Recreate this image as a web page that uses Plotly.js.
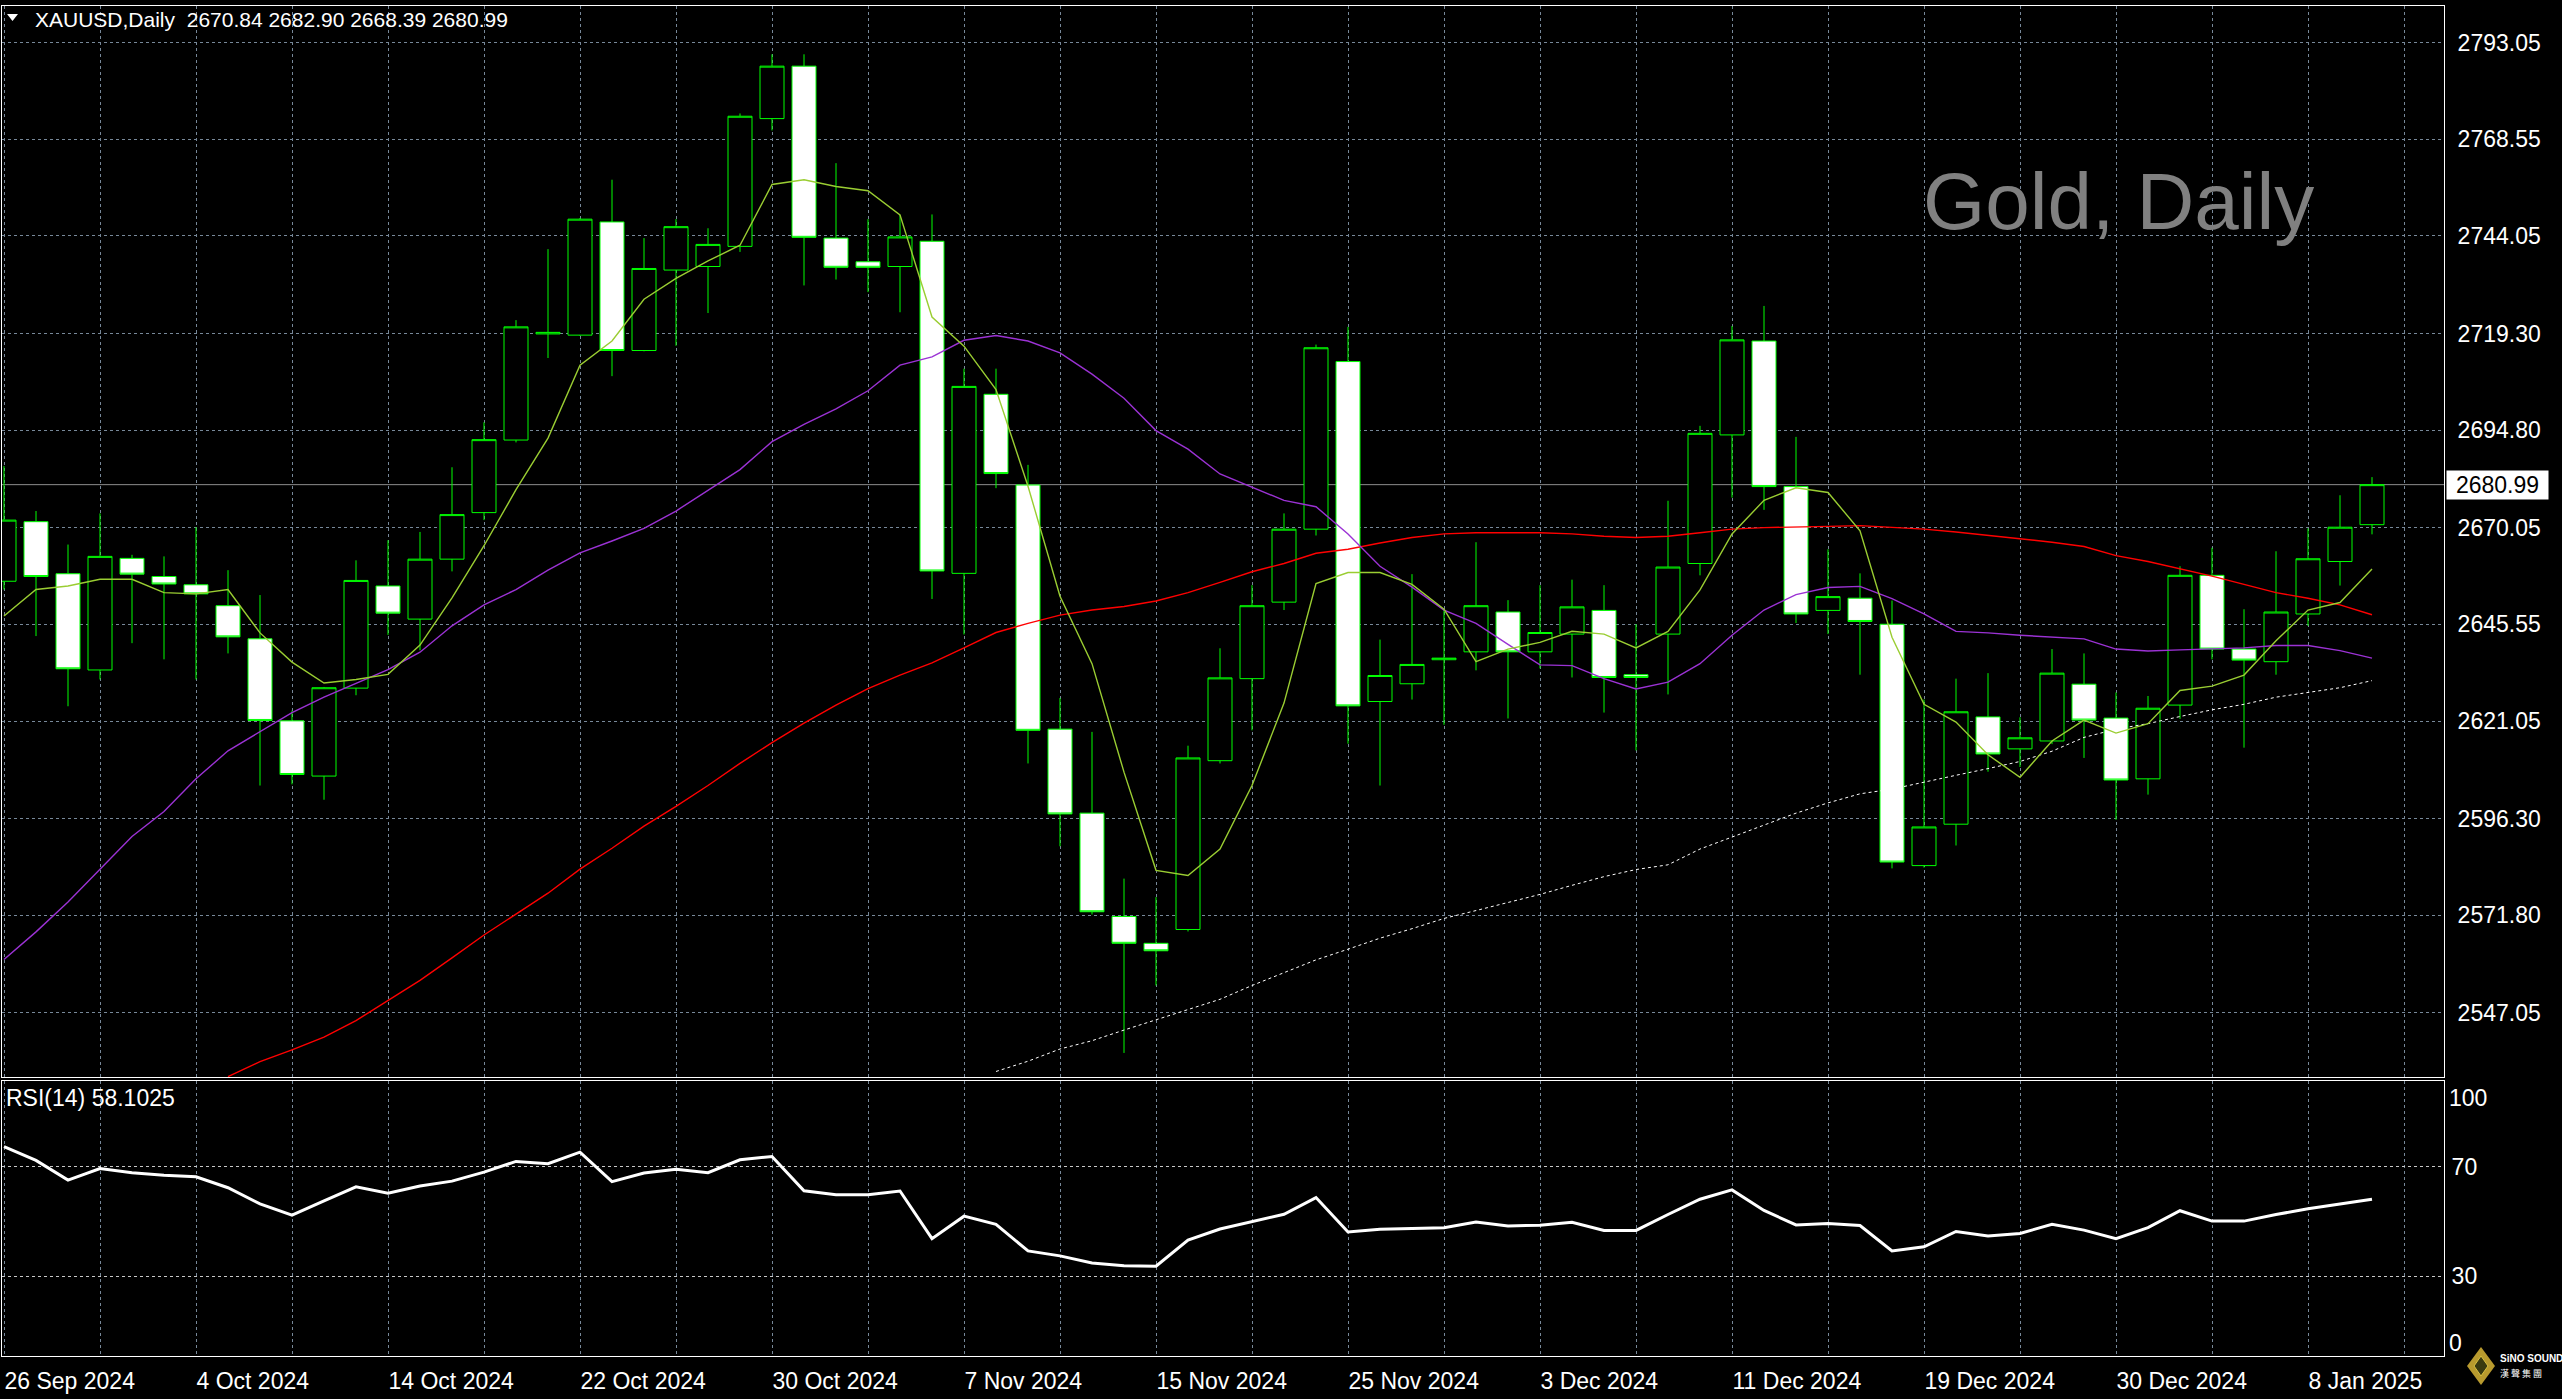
<!DOCTYPE html>
<html>
<head>
<meta charset="utf-8">
<script src="https://cdn.plot.ly/plotly-3.0.1.min.js"></script>
<style>
html,body{margin:0;padding:0;background:#000;overflow:hidden;}
#chart{width:2562px;height:1399px;}
</style>
</head>
<body>
<div id="chart"></div>
<script>
// ---------- DATA ----------
const dates = [
 '2024-09-26','2024-09-27','2024-09-30','2024-10-01','2024-10-02','2024-10-03','2024-10-04','2024-10-07','2024-10-08','2024-10-09',
 '2024-10-10','2024-10-11','2024-10-14','2024-10-15','2024-10-16','2024-10-17','2024-10-18','2024-10-21','2024-10-22','2024-10-23',
 '2024-10-24','2024-10-25','2024-10-28','2024-10-29','2024-10-30','2024-10-31','2024-11-01','2024-11-04','2024-11-05','2024-11-06',
 '2024-11-07','2024-11-08','2024-11-11','2024-11-12','2024-11-13','2024-11-14','2024-11-15','2024-11-18','2024-11-19','2024-11-20',
 '2024-11-21','2024-11-22','2024-11-25','2024-11-26','2024-11-27','2024-11-28','2024-11-29','2024-12-02','2024-12-03','2024-12-04',
 '2024-12-05','2024-12-06','2024-12-09','2024-12-10','2024-12-11','2024-12-12','2024-12-13','2024-12-16','2024-12-17','2024-12-18',
 '2024-12-19','2024-12-20','2024-12-23','2024-12-24','2024-12-26','2024-12-27','2024-12-30','2024-12-31','2025-01-02','2025-01-03',
 '2025-01-06','2025-01-07','2025-01-08','2025-01-09','2025-01-10'
];
const open = [
 2656.5,2671.6,2658.4,2634.0,2662.3,2657.7,2655.6,2650.3,2641.9,2621.1,
 2607.1,2629.4,2655.3,2646.9,2662.1,2673.9,2692.3,2719.2,2718.9,2747.6,
 2715.0,2735.4,2736.3,2741.4,2773.8,2787.1,2743.5,2737.5,2736.3,2742.7,
 2658.5,2703.9,2680.9,2619.0,2597.7,2571.5,2564.7,2568.2,2611.0,2631.8,
 2651.2,2669.7,2712.2,2626.0,2630.5,2636.6,2638.6,2648.7,2638.6,2643.1,
 2649.1,2632.8,2643.1,2661.0,2693.6,2717.4,2680.5,2649.1,2652.2,2645.6,
 2584.4,2594.9,2622.1,2614.0,2616.0,2630.4,2621.8,2606.4,2625.1,2658.0,
 2639.3,2636.1,2648.2,2661.5,2670.84
];
const high = [
 2685.7,2674.3,2665.8,2673.7,2663.2,2662.8,2670.2,2659.3,2653.0,2623.7,
 2629.7,2661.8,2666.9,2669.0,2685.4,2696.8,2722.7,2740.7,2748.6,2758.3,
 2743.5,2748.3,2746.0,2775.1,2790.1,2790.1,2762.5,2748.3,2749.4,2749.5,
 2710.4,2710.4,2686.0,2626.9,2618.3,2581.1,2576.4,2614.8,2639.5,2655.5,
 2673.7,2716.5,2721.0,2641.7,2658.3,2649.2,2666.4,2651.7,2655.5,2656.9,
 2655.5,2645.6,2676.9,2695.9,2721.2,2726.3,2693.1,2664.6,2658.5,2651.6,
 2626.5,2631.8,2633.2,2622.0,2639.3,2638.2,2628.3,2627.4,2660.3,2665.0,
 2649.4,2664.1,2669.9,2678.3,2682.90
];
const low = [
 2654.4,2642.6,2624.8,2631.6,2640.8,2636.7,2631.6,2638.2,2604.7,2605.0,
 2601.1,2627.6,2642.9,2639.0,2659.0,2672.0,2691.7,2713.1,2718.7,2708.5,
 2714.8,2716.2,2724.5,2740.0,2770.8,2731.5,2733.0,2729.8,2724.7,2652.0,
 2643.0,2680.1,2610.3,2589.3,2572.0,2536.9,2554.0,2567.7,2610.3,2618.7,
 2649.2,2668.1,2615.3,2604.7,2626.5,2620.1,2633.9,2621.7,2634.4,2632.1,
 2623.2,2613.6,2627.8,2658.0,2677.7,2674.6,2645.9,2643.1,2632.8,2583.7,
 2583.9,2589.5,2608.2,2609.4,2615.2,2611.7,2596.0,2602.4,2621.6,2636.7,
 2614.3,2632.8,2645.2,2655.4,2668.39
];
const close = [
 2672.0,2657.7,2634.3,2662.8,2658.3,2655.8,2653.3,2642.4,2621.2,2607.5,
 2629.5,2656.7,2648.4,2662.1,2673.4,2692.4,2721.0,2719.6,2748.3,2715.0,
 2735.8,2746.4,2741.9,2774.4,2787.1,2743.7,2736.1,2736.1,2743.8,2659.1,
 2705.9,2683.8,2618.7,2597.5,2572.7,2564.7,2562.8,2611.7,2632.0,2650.3,
 2669.7,2715.7,2624.9,2632.6,2635.4,2637.0,2650.3,2638.6,2643.5,2650.0,
 2632.1,2632.1,2660.1,2694.0,2717.7,2680.5,2648.2,2652.6,2646.3,2585.3,
 2594.2,2623.4,2612.7,2616.8,2633.2,2621.3,2606.1,2624.3,2658.0,2639.3,
 2636.5,2648.7,2662.2,2670.2,2680.99
];
// yellow-green fast moving average
const maFast = [
 2647.7,2654.4,2655.3,2657.0,2657.0,2653.6,2653.3,2654.4,2643.4,2636.0,
 2630.7,2631.6,2632.9,2640.3,2652.3,2665.5,2679.7,2692.8,2711.3,2717.4,
 2728.0,2733.3,2737.7,2741.7,2757.1,2758.3,2756.6,2755.5,2749.4,2723.5,
 2716.1,2705.1,2680.6,2652.7,2635.6,2608.1,2583.2,2581.9,2588.6,2604.7,
 2625.6,2655.9,2658.7,2658.7,2655.7,2649.4,2636.1,2639.3,2641.0,2643.8,
 2643.1,2639.6,2643.8,2654.3,2668.5,2677.0,2680.2,2679.0,2669.3,2642.3,
 2625.3,2620.8,2612.5,2606.8,2616.0,2621.3,2618.0,2620.4,2628.8,2629.9,
 2632.7,2641.4,2649.2,2651.1,2659.6
];
// purple moving average
const maMid = [
 2560.6,2567.6,2575.2,2583.5,2591.8,2598.1,2606.4,2613.5,2618.4,2623.2,
 2627.1,2630.6,2634.1,2638.5,2645.2,2650.5,2654.4,2659.3,2663.7,2666.7,
 2669.9,2674.3,2679.6,2684.8,2691.9,2696.3,2700.2,2704.8,2711.3,2713.4,
 2717.6,2718.8,2717.4,2714.4,2709.0,2702.9,2694.7,2690.0,2683.7,2680.4,
 2677.0,2675.4,2668.5,2660.3,2655.0,2649.2,2645.8,2640.5,2635.3,2635.1,
 2631.8,2629.2,2630.9,2635.6,2642.8,2649.2,2653.1,2654.9,2655.2,2652.1,
 2648.2,2643.8,2643.4,2642.8,2642.4,2641.9,2639.3,2638.8,2639.1,2639.3,
 2639.6,2640.2,2640.2,2638.9,2637.0
];
// red moving average
const maSlow = [
 null,null,null,null,null,null,null,2530.9,2534.7,2537.7,
 2540.9,2545.1,2550.1,2555.3,2561.0,2566.8,2572.1,2577.4,2583.5,2588.8,
 2594.4,2599.4,2604.7,2610.3,2615.6,2620.5,2625.1,2629.3,2632.7,2635.8,
 2639.6,2643.5,2645.8,2647.9,2649.2,2650.1,2651.5,2653.6,2656.2,2658.9,
 2661.0,2663.6,2664.6,2666.2,2667.6,2668.5,2668.8,2668.8,2668.8,2668.5,
 2667.9,2667.6,2667.9,2668.8,2669.7,2670.1,2670.2,2670.4,2670.6,2670.2,
 2669.7,2669.0,2668.1,2667.2,2666.4,2665.3,2663.0,2661.5,2659.6,2657.8,
 2655.7,2653.6,2652.2,2650.5,2648.0
];
// white dotted long moving average
const maLong = [
 null,null,null,null,null,null,null,null,null,null,
 null,null,null,null,null,null,null,null,null,null,
 null,null,null,null,null,null,null,null,null,null,
 null,2532.2,2534.8,2537.9,2540.0,2542.7,2545.3,2547.9,2550.5,2554.0,
 2557.2,2560.5,2563.2,2566.0,2568.4,2571.0,2573.0,2575.0,2577.1,2579.4,
 2581.6,2583.4,2584.6,2588.6,2591.6,2594.6,2597.7,2600.3,2602.6,2603.8,
 2605.6,2607.3,2609.0,2610.8,2613.4,2616.9,2619.0,2620.4,2622.2,2623.9,
 2625.3,2627.1,2628.3,2629.5,2631.3
];
const rsi = [
 77.3,72.3,65.1,69.3,67.8,66.9,66.3,62.3,56.4,52.3,
 57.5,62.6,60.3,62.9,64.7,68.0,71.9,71.1,75.3,64.5,
 67.7,69.0,67.8,72.5,73.7,61.2,59.7,59.7,61.1,43.7,
 51.9,48.9,39.2,37.4,34.8,33.8,33.6,43.2,47.2,49.9,
 52.6,58.7,46.1,47.1,47.5,47.7,49.8,48.3,48.6,49.7,
 46.7,46.7,52.5,58.1,61.5,54.0,48.7,49.2,48.5,39.2,
 40.7,46.3,44.7,45.6,48.9,46.8,43.7,47.7,53.9,50.1,
 50.1,52.5,54.6,56.4,58.1
];
const rsiLabel = 'RSI(14) 58.1025';
const priceTicks = [2547.05,2571.80,2596.30,2621.05,2645.55,2670.05,2694.80,2719.30,2744.05,2768.55,2793.05];
const rsiTicks = [30,70];
const labelDates = ['2024-09-26','2024-10-04','2024-10-14','2024-10-22','2024-10-30','2024-11-07','2024-11-15','2024-11-25','2024-12-03','2024-12-11','2024-12-19','2024-12-30','2025-01-08'];
const labelTexts = ['26 Sep 2024','4 Oct 2024','14 Oct 2024','22 Oct 2024','30 Oct 2024','7 Nov 2024','15 Nov 2024','25 Nov 2024','3 Dec 2024','11 Dec 2024','19 Dec 2024','30 Dec 2024','8 Jan 2025'];
const symbol = 'XAUUSD,Daily';
const watermark = 'Gold, Daily';

// ---------- BUILD ----------
const W = 2562, H = 1399;
const FONT = 'Liberation Sans, Arial, sans-serif';
const GRID = '#778899';
const xIdx = dates.map((d, i) => i);
const last = dates.length - 1;
const labelPos = labelDates.map(d => dates.indexOf(d));
const gridVals = [];
for (let v = 0; v <= last + 2; v += 3) gridVals.push(v);
const gridText = gridVals.map(v => { const k = labelPos.indexOf(v); return k >= 0 ? labelTexts[k] : ''; });

const px = x => x / W;
const py = y => 1 - y / H;
const xDom = [px(2), px(2444)];
const xRange = [-0.0625, 76.25];

const traces = [
  {
    type: 'candlestick', x: xIdx, open: open, high: high, low: low, close: close,
    xaxis: 'x', yaxis: 'y', whiskerwidth: 0, hoverinfo: 'skip',
    increasing: { line: { color: '#00FF00', width: 1 }, fillcolor: '#000000' },
    decreasing: { line: { color: '#00FF00', width: 1 }, fillcolor: '#FFFFFF' }
  },
  { type: 'scatter', mode: 'lines', x: xIdx, y: maLong, xaxis: 'x', yaxis: 'y', line: { color: '#FFFFFF', width: 1, dash: 'dot' }, hoverinfo: 'skip' },
  { type: 'scatter', mode: 'lines', x: xIdx, y: maSlow, xaxis: 'x', yaxis: 'y', line: { color: '#FF0000', width: 1.4 }, hoverinfo: 'skip' },
  { type: 'scatter', mode: 'lines', x: xIdx, y: maMid, xaxis: 'x', yaxis: 'y', line: { color: '#9B32D4', width: 1.4 }, hoverinfo: 'skip' },
  { type: 'scatter', mode: 'lines', x: xIdx, y: maFast, xaxis: 'x', yaxis: 'y', line: { color: '#9ACD32', width: 1.4 }, hoverinfo: 'skip' },
  { type: 'scatter', mode: 'lines', x: xIdx, y: rsi, xaxis: 'x2', yaxis: 'y2', line: { color: '#FFFFFF', width: 3 }, hoverinfo: 'skip' }
];

const fmt = v => v.toFixed(2);
const header = symbol + '\u00a0\u00a0' + [open[last], high[last], low[last], close[last]].map(fmt).join(' ');

const layout = {
  width: W, height: H,
  margin: { l: 0, r: 0, t: 0, b: 0 },
  paper_bgcolor: '#000000', plot_bgcolor: '#000000',
  showlegend: false, hovermode: false, dragmode: false,
  boxgap: 0.25, boxgroupgap: 0,
  font: { family: FONT, color: '#FFFFFF', size: 23 },
  xaxis: {
    domain: xDom, range: xRange, anchor: 'y', tickvals: gridVals, showticklabels: false, ticks: '',
    showgrid: true, gridcolor: GRID, griddash: 'dot', gridwidth: 1, zeroline: false,
    showline: true, mirror: true, linecolor: '#FFFFFF', linewidth: 1,
    rangeslider: { visible: false }, fixedrange: true
  },
  yaxis: {
    domain: [py(1077), py(6)], range: [2530.8, 2802.35], anchor: 'x', side: 'right',
    tickvals: priceTicks, ticktext: priceTicks.map(fmt), ticks: '', ticklabelstandoff: 8,
    tickfont: { family: FONT, size: 23, color: '#FFFFFF' },
    showgrid: true, gridcolor: GRID, griddash: 'dot', gridwidth: 1, zeroline: false,
    showline: true, mirror: true, linecolor: '#FFFFFF', linewidth: 1, fixedrange: true
  },
  xaxis2: {
    domain: xDom, range: xRange, anchor: 'y2', tickvals: gridVals, ticktext: gridText,
    ticklabelposition: 'outside right', ticks: '', ticklabelstandoff: 4,
    tickfont: { family: FONT, size: 23, color: '#FFFFFF' },
    showgrid: true, gridcolor: GRID, griddash: 'dot', gridwidth: 1, zeroline: false,
    showline: true, mirror: true, linecolor: '#FFFFFF', linewidth: 1, fixedrange: true
  },
  yaxis2: {
    domain: [py(1356), py(1081)], range: [0.8, 101.3], anchor: 'x2', side: 'right',
    tickvals: rsiTicks, ticktext: rsiTicks.map(String), ticks: '', ticklabelstandoff: 2,
    tickfont: { family: FONT, size: 23, color: '#FFFFFF' },
    showgrid: true, gridcolor: '#C8C8C8', griddash: 'dot', gridwidth: 1, zeroline: false,
    showline: true, mirror: true, linecolor: '#FFFFFF', linewidth: 1, fixedrange: true
  },
  shapes: [
    { type: 'line', xref: 'paper', yref: 'y', x0: xDom[0], x1: xDom[1], y0: close[last], y1: close[last], line: { color: '#8C8C8C', width: 1 }, layer: 'below' },
    { type: 'path', xref: 'paper', yref: 'paper', path: `M ${px(7)},${py(14)} L ${px(18)},${py(14)} L ${px(12.5)},${py(21)} Z`, fillcolor: '#FFFFFF', line: { width: 0 } },
    { type: 'path', xref: 'paper', yref: 'paper', path: `M ${px(2481)},${py(1347)} L ${px(2495)},${py(1366)} L ${px(2481)},${py(1385)} L ${px(2467)},${py(1366)} Z`, fillcolor: '#B89A2E', line: { width: 0 } },
    { type: 'path', xref: 'paper', yref: 'paper', path: `M ${px(2481)},${py(1356)} L ${px(2488)},${py(1366)} L ${px(2481)},${py(1376)} L ${px(2474)},${py(1366)} Z`, fillcolor: '#3A3A10', line: { color: '#D8C040', width: 1 } }
  ],
  annotations: [
    { xref: 'paper', yref: 'paper', x: px(33), y: py(20), xanchor: 'left', yanchor: 'middle', showarrow: false, text: header, font: { family: FONT, size: 21, color: '#FFFFFF' } },
    { xref: 'paper', yref: 'paper', x: px(1921), y: py(201), xanchor: 'left', yanchor: 'middle', showarrow: false, text: watermark, font: { family: FONT, size: 80, color: '#808080' } },
    { xref: 'paper', yref: 'paper', x: px(4), y: py(1098), xanchor: 'left', yanchor: 'middle', showarrow: false, text: rsiLabel, font: { family: FONT, size: 23, color: '#FFFFFF' } },
    { xref: 'paper', yref: 'y', x: px(2446), y: close[last], xanchor: 'left', yanchor: 'middle', showarrow: false, text: fmt(close[last]), width: 99, height: 26, borderpad: 1, bgcolor: '#FFFFFF', font: { family: FONT, size: 23, color: '#000000' } },
    { xref: 'paper', yref: 'paper', x: px(2447), y: py(1098), xanchor: 'left', yanchor: 'middle', showarrow: false, text: '100', font: { family: FONT, size: 23, color: '#FFFFFF' } },
    { xref: 'paper', yref: 'paper', x: px(2447), y: py(1343), xanchor: 'left', yanchor: 'middle', showarrow: false, text: '0', font: { family: FONT, size: 23, color: '#FFFFFF' } },
    { xref: 'paper', yref: 'paper', x: px(2498), y: py(1358), xanchor: 'left', yanchor: 'middle', showarrow: false, text: '<b>SiNO SOUND</b>', font: { family: FONT, size: 10, color: '#FFFFFF' } },
    { xref: 'paper', yref: 'paper', x: px(2498), y: py(1373), xanchor: 'left', yanchor: 'middle', showarrow: false, text: '漢 聲 集 團', font: { family: 'Noto Sans CJK TC, sans-serif', size: 9, color: '#FFFFFF' } }
  ]
};

Plotly.newPlot('chart', traces, layout, { displayModeBar: false, staticPlot: true });
</script>
</body>
</html>
